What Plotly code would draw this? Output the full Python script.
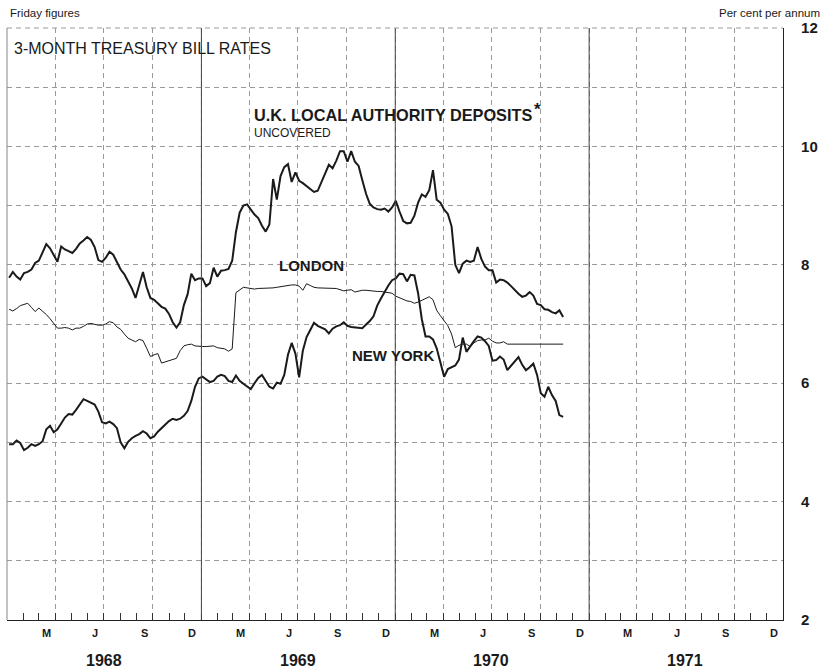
import pandas as pd
import plotly.graph_objects as go

# Weekly (Friday) observations, first Friday of January 1968 onward
start_friday = "1968-01-05"
n_weeks = 150

uk_local_authority = [
    7.78, 7.88, 7.80, 7.75, 7.86, 7.88, 7.92, 8.03, 8.07, 8.22,
    8.35, 8.28, 8.16, 8.05, 8.31, 8.26, 8.23, 8.20, 8.27, 8.36,
    8.41, 8.47, 8.42, 8.30, 8.08, 8.05, 8.12, 8.22, 8.17, 8.03,
    7.92, 7.84, 7.72, 7.60, 7.44, 7.68, 7.88, 7.62, 7.44, 7.41,
    7.35, 7.29, 7.26, 7.17, 7.03, 6.94, 7.03, 7.32, 7.50, 7.85,
    7.74, 7.77, 7.77, 7.64, 7.69, 7.95, 7.80, 7.90, 7.91, 7.93,
    8.07, 8.55, 8.88, 9.00, 9.02, 8.93, 8.85, 8.79, 8.66, 8.56,
    8.68, 9.45, 9.10, 9.50, 9.65, 9.70, 9.40, 9.56, 9.42, 9.38,
    9.33, 9.28, 9.23, 9.25, 9.40, 9.57, 9.69, 9.63, 9.76, 9.92,
    9.92, 9.74, 9.92, 9.74, 9.67, 9.43, 9.20, 9.03, 8.97, 8.94,
    8.93, 8.95, 8.90, 8.97, 9.08, 8.90, 8.74, 8.70, 8.71, 8.83,
    9.05, 9.19, 9.15, 9.26, 9.60, 9.10, 9.05, 8.93, 8.86, 8.65,
    8.00, 7.86, 8.02, 8.07, 8.05, 8.07, 8.30, 8.10, 7.97, 7.91,
    7.91, 7.70, 7.75, 7.74, 7.70, 7.64, 7.57, 7.51, 7.46, 7.48,
    7.54, 7.48, 7.34, 7.32, 7.25, 7.24, 7.20, 7.18, 7.23, 7.12,
]

london = [
    7.25, 7.22, 7.26, 7.31, 7.33, 7.35, 7.28, 7.21, 7.27, 7.22,
    7.16, 7.09, 7.01, 6.93, 6.93, 6.94, 6.93, 6.90, 6.93, 6.93,
    6.96, 7.00, 7.01, 6.99, 6.98, 6.98, 7.00, 7.04, 7.02, 6.95,
    6.91, 6.83, 6.76, 6.73, 6.70, 6.74, 6.72, 6.59, 6.45, 6.48,
    6.50, 6.34, 6.36, 6.38, 6.40, 6.42, 6.55, 6.63, 6.65, 6.66,
    6.63, 6.62, 6.62, 6.62, 6.62, 6.63, 6.60, 6.59, 6.58, 6.54,
    6.58, 7.53, 7.58, 7.62, 7.61, 7.60, 7.59, 7.60, 7.60, 7.60,
    7.60, 7.61, 7.62, 7.63, 7.64, 7.66, 7.66, 7.66, 7.64, 7.57,
    7.68, 7.65, 7.62, 7.61, 7.61, 7.61, 7.61, 7.61, 7.60, 7.58,
    7.56, 7.57, 7.58, 7.54, 7.56, 7.57, 7.57, 7.56, 7.56, 7.55,
    7.55, 7.54, 7.53, 7.52, 7.47, 7.44, 7.41, 7.39, 7.38, 7.35,
    7.37, 7.40, 7.43, 7.46, 7.41, 7.23, 7.14, 7.06, 6.97, 6.83,
    6.60, 6.64, 6.66, 6.66, 6.62, 6.68, 6.72, 6.73, 6.73, 6.76,
    6.71, 6.68, 6.68, 6.70, 6.66, 6.66, 6.66, 6.66, 6.66, 6.66,
    6.66, 6.66, 6.66, 6.66, 6.66, 6.66, 6.66, 6.66, 6.66, 6.66,
]

new_york = [
    4.97, 4.97, 5.03, 4.99, 4.87, 4.91, 4.97, 4.94, 4.97, 5.02,
    5.22, 5.28, 5.17, 5.22, 5.32, 5.42, 5.48, 5.47, 5.55, 5.64,
    5.73, 5.70, 5.67, 5.64, 5.52, 5.34, 5.32, 5.35, 5.31, 5.24,
    5.00, 4.90, 5.01, 5.07, 5.11, 5.14, 5.19, 5.15, 5.07, 5.10,
    5.18, 5.24, 5.29, 5.36, 5.40, 5.38, 5.40, 5.45, 5.53, 5.70,
    5.94, 6.08, 6.11, 6.07, 6.02, 6.04, 6.11, 6.14, 6.12, 6.04,
    6.02, 6.13, 6.04, 5.99, 5.94, 5.90, 6.00, 6.09, 6.14, 6.05,
    5.94, 5.91, 6.01, 5.99, 6.14, 6.48, 6.68, 6.50, 6.10, 6.55,
    6.78, 6.90, 7.02, 6.97, 6.94, 6.91, 6.84, 6.92, 6.96, 6.98,
    7.03, 6.97, 6.95, 6.94, 6.94, 6.93, 6.99, 7.05, 7.13, 7.31,
    7.43, 7.55, 7.65, 7.74, 7.77, 7.85, 7.84, 7.72, 7.83, 7.82,
    7.52, 7.08, 6.79, 6.79, 6.74, 6.59, 6.34, 6.11, 6.24, 6.27,
    6.30, 6.40, 6.77, 6.53, 6.63, 6.71, 6.79, 6.77, 6.71, 6.63,
    6.38, 6.39, 6.45, 6.40, 6.22, 6.30, 6.37, 6.44, 6.31, 6.22,
    6.27, 6.33, 6.14, 5.83, 5.77, 5.94, 5.80, 5.70, 5.46, 5.43,
]

years = [1968, 1969, 1970, 1971]
month_letters = ["M", "J", "S", "D"]
month_numbers = [3, 6, 9, 12]
y_label_values = [2, 4, 6, 8, 10, 12]

dates = pd.date_range(start_friday, periods=n_weeks, freq="W-FRI")

INK = "#1a1a1a"
FONT = "Liberation Sans, Arial, sans-serif"
GRID = "#9a9a9a"

fig = go.Figure()
fig.add_trace(go.Scatter(x=dates, y=uk_local_authority, mode="lines",
                         line=dict(color=INK, width=2), name="U.K. Local Authority"))
fig.add_trace(go.Scatter(x=dates, y=london, mode="lines",
                         line=dict(color=INK, width=1), name="London"))
fig.add_trace(go.Scatter(x=dates, y=new_york, mode="lines",
                         line=dict(color=INK, width=2), name="New York"))

# quarter boundaries for the vertical grid
quarter_bounds = pd.date_range("1968-04-01", "1971-10-01", freq="QS")
year_bounds = [pd.Timestamp(f"{y}-01-01") for y in years[1:]]

shapes = []
for yb in year_bounds:
    shapes.append(dict(type="line", xref="x", yref="paper", x0=yb, x1=yb, y0=0, y1=1,
                       line=dict(color="#444", width=1)))
# left edge and top edge
shapes.append(dict(type="line", xref="paper", yref="paper", x0=0, x1=0, y0=0, y1=1,
                   line=dict(color="#888", width=1)))
shapes.append(dict(type="line", xref="paper", yref="paper", x0=0, x1=1, y0=1, y1=1,
                   line=dict(color=GRID, width=1, dash="5px,4px")))


def note(x, y, text, size, xref="paper", xanchor="left"):
    return dict(x=x, y=y, xref=xref, yref="paper", xanchor=xanchor, yanchor="middle",
                text=text, showarrow=False, font=dict(size=size, color=INK, family=FONT))


annotations = []
for yr in years:
    for letter, mn in zip(month_letters, month_numbers):
        mid = pd.Timestamp(f"{yr}-{mn:02d}-15")
        annotations.append(note(mid, -0.022, f"<b>{letter}</b>", 11, xref="x", xanchor="center"))
    annotations.append(note(pd.Timestamp(f"{yr}-07-01"), -0.068, f"<b>{yr}</b>", 16,
                            xref="x", xanchor="center"))

annotations += [
    note(0.001, 1.025, "Friday figures", 11.5),
    note(1.050, 1.025, "Per cent per annum", 11.5, xanchor="right"),
    note(0.006, 0.966, "3-MONTH TREASURY BILL RATES", 16),
    note(0.316, 0.853, "<b>U.K. LOCAL AUTHORITY DEPOSITS</b>", 16.3),
    note(0.6765, 0.862, "<b>*</b>", 17),
    note(0.316, 0.823, "UNCOVERED", 12),
    note(0.348, 0.598, "<b>LONDON</b>", 15),
    note(0.442, 0.446, "<b>NEW YORK</b>", 15),
]

fig.update_layout(
    width=827, height=670,
    margin=dict(l=7, r=44, t=28, b=50),
    paper_bgcolor="white", plot_bgcolor="white",
    showlegend=False,
    font=dict(family=FONT, color=INK),
    xaxis=dict(
        range=["1968-01-01", "1972-01-01"],
        tickvals=list(quarter_bounds), ticktext=["" for _ in quarter_bounds],
        showticklabels=False, automargin=False,
        ticks="inside", ticklen=12, tickcolor="#333",
        showgrid=True, gridcolor=GRID, gridwidth=1, griddash="5px,4px",
        showline=True, linecolor="#222", linewidth=1.2,
        zeroline=False,
        minor=dict(ticks="inside", ticklen=7, tickcolor="#333", dtick="M1",
                   tick0="1968-01-01", showgrid=False),
    ),
    yaxis=dict(
        range=[2, 12], side="right", automargin=False,
        tickvals=list(range(2, 13)),
        ticktext=[f"<b>{v}</b>" if v in y_label_values else "" for v in range(2, 13)],
        tickfont=dict(size=15, color=INK, family=FONT),
        ticks="", ticklabelstandoff=14,
        showgrid=True, gridcolor=GRID, gridwidth=1, griddash="5px,4px",
        showline=True, linecolor="#222", linewidth=1.2,
        zeroline=False,
    ),
    shapes=shapes,
    annotations=annotations,
)

fig.write_html("out.html", config={"displayModeBar": False},
               post_script="document.body.style.margin='0';")
